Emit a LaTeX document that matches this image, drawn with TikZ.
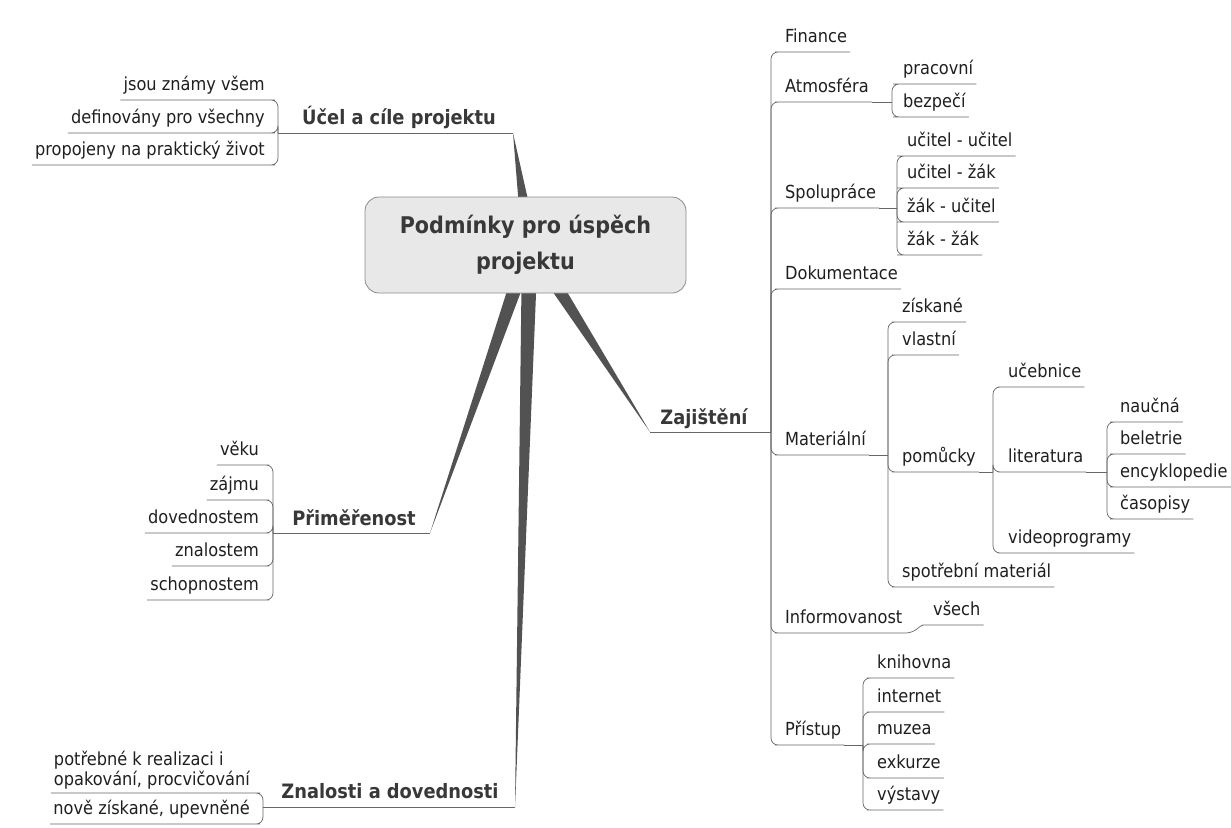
\documentclass[tikz,border=0pt]{standalone}
\usepackage{fontspec}
\setmainfont{DejaVu Sans Condensed}
\usetikzlibrary{calc}

\begin{document}
\begin{tikzpicture}[x=1pt, y=-1pt,
    root/.style={rounded corners=14pt, fill=black!9, draw=black!45, line width=0.8pt,
      minimum width=321pt, minimum height=96pt, align=center, text=black!78,
      font=\bfseries\fontsize{23}{36}\selectfont},
    topic/.style={font=\bfseries\fontsize{19.8}{22}\selectfont, text=black!78,
      anchor=base, inner sep=0pt},
    leaf/.style={font=\fontsize{18}{20}\selectfont, text=black!88,
      inner xsep=3pt, inner ysep=3pt, text depth=6pt},
    leafl/.style={leaf, anchor=south east},
    leafr/.style={leaf, anchor=south west},
    leafml/.style={font=\fontsize{18}{20}\selectfont, text=black!88, align=left,
      inner xsep=3pt, inner ysep=4pt, anchor=south east},
    link/.style={draw=black!60, line width=0.7pt, rounded corners=7pt},
    wedge/.style={fill=black!68}
  ]
  \fill[white] (0,0) rectangle (1231,827);
  \useasboundingbox (0,0) rectangle (1231,827);

  % tapered branches, the root box covers their base
  \coordinate (ctr) at (530,245);
  \coordinate (tU) at (513,133);
  \coordinate (tP) at (430,533);
  \coordinate (tZ) at (650,432);
  \coordinate (tD) at (515,807);
  \foreach \tp in {tU,tP,tZ,tD}
    \fill[wedge] ($(ctr)!8pt!90:(\tp)$) -- (\tp) -- ($(ctr)!8pt!-90:(\tp)$) -- cycle;

  \node[root] (root) at (525.5,245) {Podmínky pro úspěch\\projektu};

  % Ucel a cile projektu
  \coordinate (bU) at (278,133);
  \node[topic] (ucel) at (399,124) {Účel a cíle projektu};
  \draw[link] (bU) -- (tU);
  \node[leafl] (u1) at (268,100) {jsou známy všem};
  \node[leafl] (u2) at (268,133) {definovány pro všechny};
  \node[leafl] (u3) at (268,165) {propojeny na praktický život};
  \foreach \n in {u1,u2,u3}
    \draw[link] (bU) |- (\n.south east) -- (\n.south west);

  % Primerenost
  \coordinate (bP) at (273,533);
  \node[topic] (prim) at (354,525) {Přiměřenost};
  \draw[link] (bP) -- (tP);
  \node[leafl] (p1) at (262,465) {věku};
  \node[leafl] (p2) at (262,500) {zájmu};
  \node[leafl] (p3) at (262,533) {dovednostem};
  \node[leafl] (p4) at (262,566) {znalostem};
  \node[leafl] (p5) at (262,600) {schopnostem};
  \foreach \n in {p1,p2,p3,p4,p5}
    \draw[link] (bP) |- (\n.south east) -- (\n.south west);

  % Znalosti a dovednosti
  \coordinate (bD) at (263,807);
  \node[topic] (znal) at (390,798) {Znalosti a dovednosti};
  \draw[link] (bD) -- (tD);
  \node[leafml] (d1) at (253,793) {potřebné k realizaci i\\opakování, procvičování};
  \node[leafl] (d2) at (253,824) {nově získané, upevněné};
  \foreach \n in {d1,d2}
    \draw[link] (bD) |- (\n.south east) -- (\n.south west);

  % Zajisteni
  \coordinate (bZ) at (771,432);
  \node[topic] (zaj) at (704,424) {Zajištění};
  \draw[link] (tZ) -- (bZ);
  \node[leafr] (fin) at (782,52) {Finance};
  \node[leafr] (atm) at (782,102) {Atmosféra};
  \node[leafr] (spo) at (782,208) {Spolupráce};
  \node[leafr] (dok) at (782,289) {Dokumentace};
  \node[leafr] (mat) at (782,455) {Materiální};
  \node[leafr] (inf) at (782,633) {Informovanost};
  \node[leafr] (pri) at (782,745) {Přístup};
  \foreach \n in {fin,atm,spo,dok,mat,inf,pri}
    \draw[link] (bZ) |- (\n.south west) -- (\n.south east);

  % Atmosfera
  \coordinate (bA) at (892,102);
  \draw[link] (atm.south east) -- (bA);
  \node[leafr] (a1) at (900,84) {pracovní};
  \node[leafr] (a2) at (900,117) {bezpečí};
  \foreach \n in {a1,a2}
    \draw[link] (bA) |- (\n.south west) -- (\n.south east);

  % Spoluprace
  \coordinate (bS) at (897,208);
  \draw[link] (spo.south east) -- (bS);
  \node[leafr] (s1) at (904,156) {učitel - učitel};
  \node[leafr] (s2) at (904,188) {učitel - žák};
  \node[leafr] (s3) at (904,222) {žák - učitel};
  \node[leafr] (s4) at (904,255) {žák - žák};
  \foreach \n in {s1,s2,s3,s4}
    \draw[link] (bS) |- (\n.south west) -- (\n.south east);

  % Materialni
  \coordinate (bM) at (888,455);
  \draw[link] (mat.south east) -- (bM);
  \node[leafr] (m1) at (899,322) {získané};
  \node[leafr] (m2) at (899,355) {vlastní};
  \node[leafr] (pom) at (899,472) {pomůcky};
  \node[leafr] (m4) at (899,587) {spotřební materiál};
  \foreach \n in {m1,m2,pom,m4}
    \draw[link] (bM) |- (\n.south west) -- (\n.south east);

  % pomucky
  \coordinate (bPo) at (993,472);
  \draw[link] (pom.south east) -- (bPo);
  \node[leafr] (k1) at (1005,387) {učebnice};
  \node[leafr] (lit) at (1005,472) {literatura};
  \node[leafr] (k3) at (1005,553) {videoprogramy};
  \foreach \n in {k1,lit,k3}
    \draw[link] (bPo) |- (\n.south west) -- (\n.south east);

  % literatura
  \coordinate (bL) at (1107,472);
  \draw[link] (lit.south east) -- (bL);
  \node[leafr] (l1) at (1117,422) {naučná};
  \node[leafr] (l2) at (1117,454) {beletrie};
  \node[leafr] (l3) at (1117,487) {encyklopedie};
  \node[leafr] (l4) at (1117,519) {časopisy};
  \foreach \n in {l1,l2,l3,l4}
    \draw[link] (bL) |- (\n.south west) -- (\n.south east);

  % Informovanost
  \node[leafr] (vse) at (930,625) {všech};
  \draw[link] (inf.south east) to[out=0, in=180] (vse.south west) -- (vse.south east);

  % Pristup
  \coordinate (bPr) at (863,745);
  \node[leafr] (r1) at (874,678) {knihovna};
  \node[leafr] (r2) at (874,712) {internet};
  \node[leafr] (r3) at (874,744) {muzea};
  \node[leafr] (r4) at (874,778) {exkurze};
  \node[leafr] (r5) at (874,810) {výstavy};
  \draw[link] (pri.south east) -- (bPr);
  \foreach \n in {r1,r2,r3,r4,r5}
    \draw[link] (bPr) |- (\n.south west) -- (\n.south east);
\end{tikzpicture}
\end{document}
